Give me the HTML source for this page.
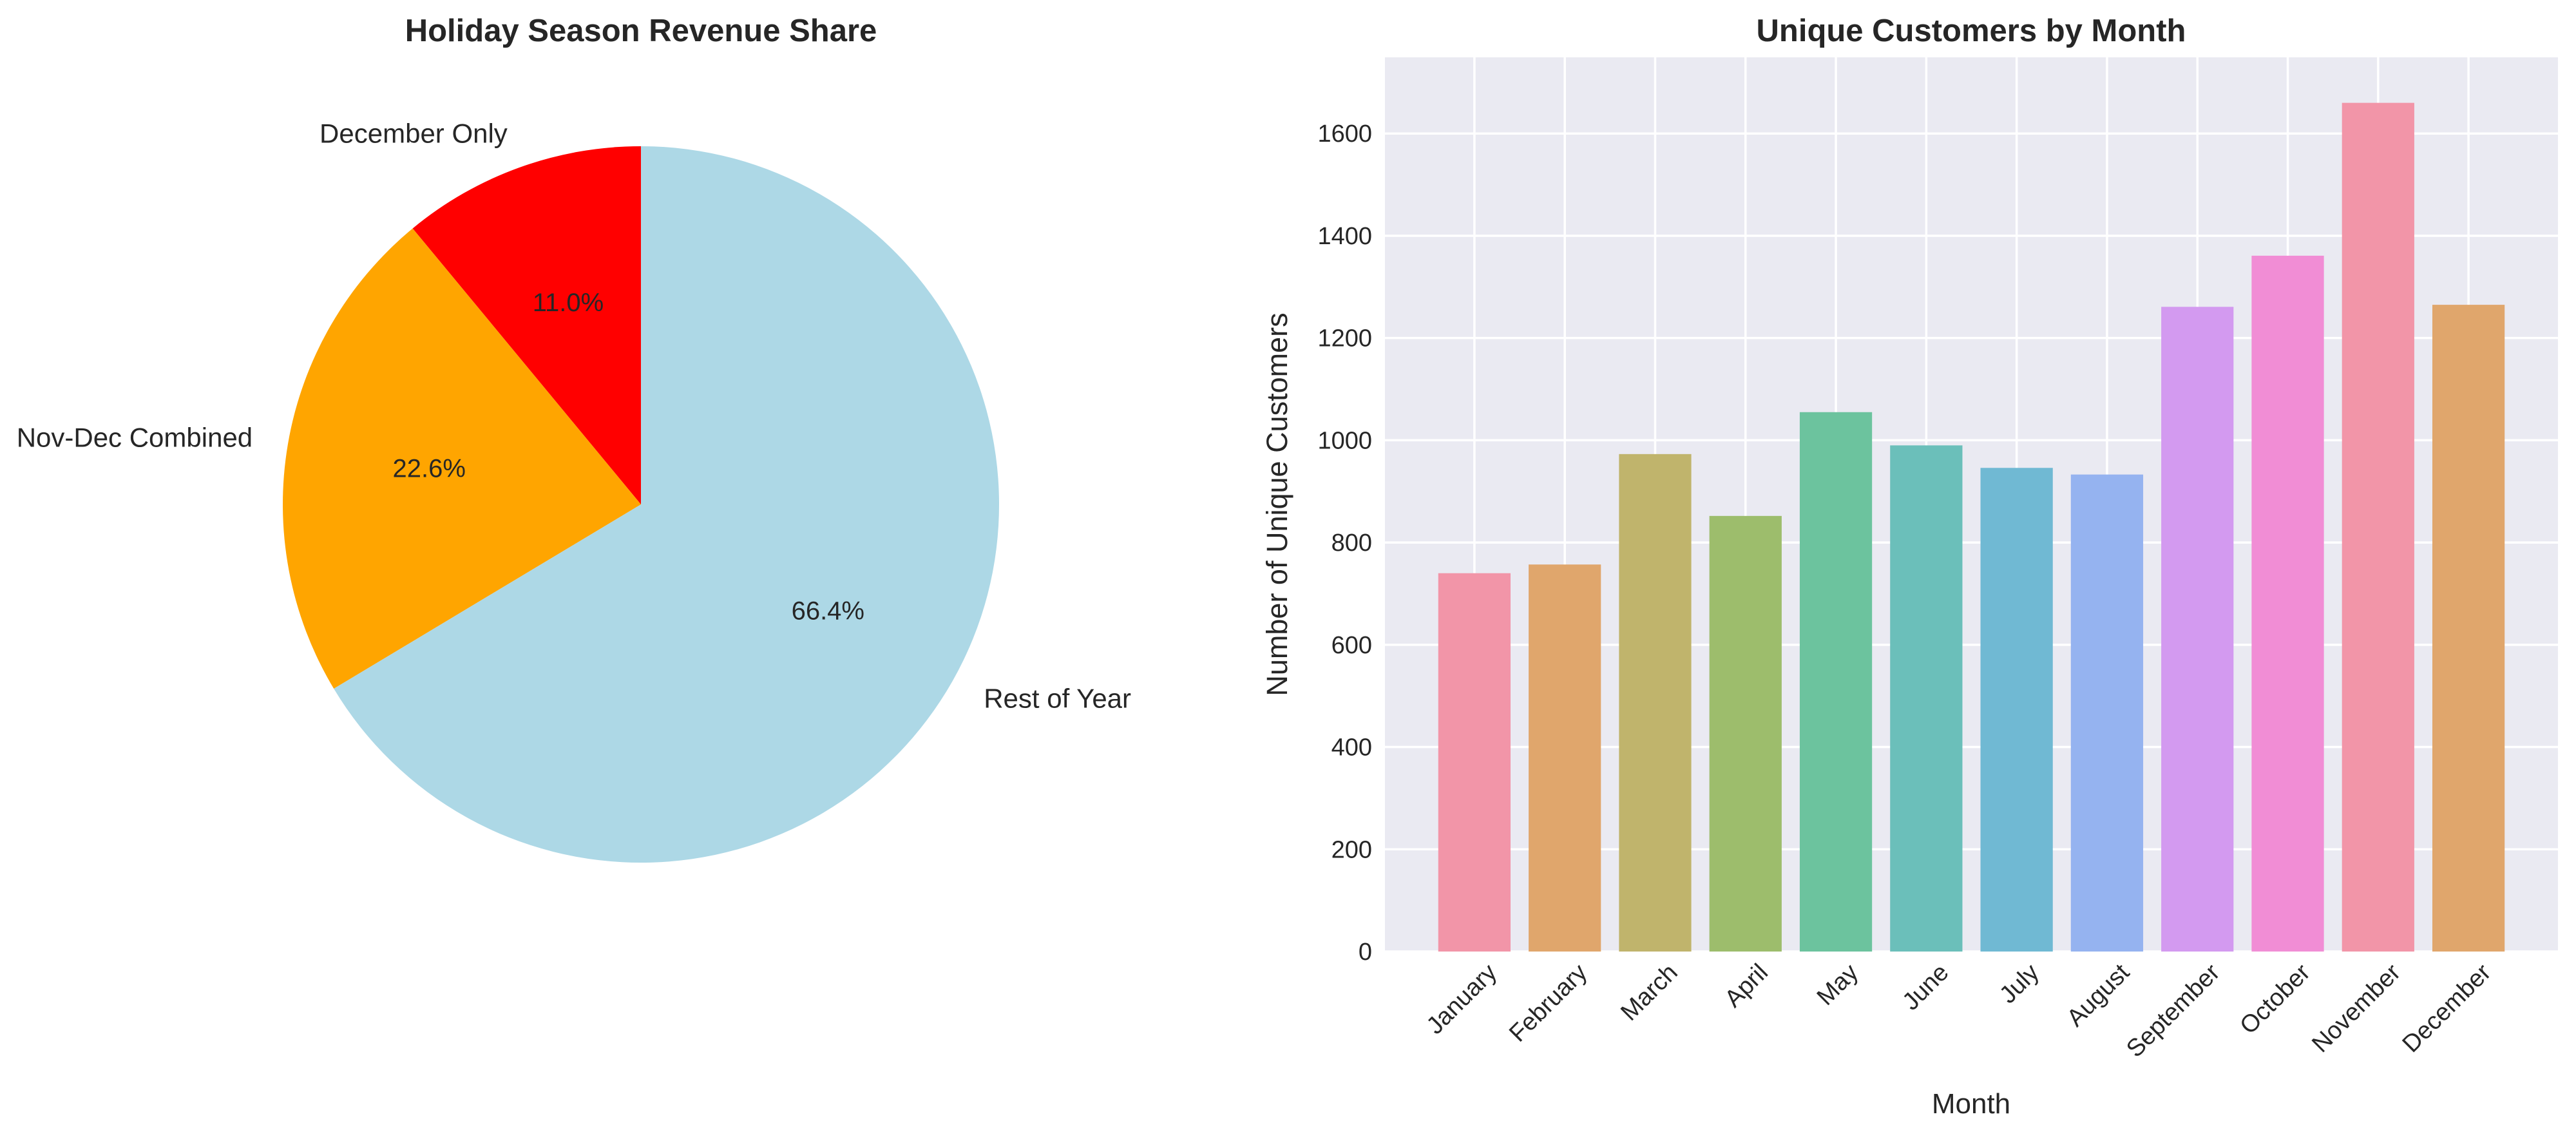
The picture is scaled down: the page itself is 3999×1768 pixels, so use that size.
<!DOCTYPE html>
<html><head><meta charset="utf-8"><style>
html,body{margin:0;padding:0;background:#fff}
svg{display:block;font-family:"Liberation Sans","DejaVu Sans",sans-serif}
</style></head><body>
<svg id="s" width="3999" height="1768" viewBox="0 0 3999 1768" xmlns="http://www.w3.org/2000/svg">
<text x="995" y="64" text-anchor="middle" font-size="49" font-weight="bold" fill="#262626">Holiday Season Revenue Share</text>
<g id="pie"></g>
<text x="3060" y="64" text-anchor="middle" font-size="49" font-weight="bold" fill="#262626">Unique Customers by Month</text>
<rect x="2150" y="89" width="1821" height="1388" fill="#eaeaf2"/>
<g id="grid"></g>
<g id="bars"></g>
<g id="ticks"></g>
<text transform="translate(1998,783) rotate(-90)" text-anchor="middle" font-size="45" fill="#262626">Number of Unique Customers</text>
<text x="3060" y="1728" text-anchor="middle" font-size="44" fill="#262626">Month</text>
</svg>
<script>
const pieLabels = ["December Only","Nov-Dec Combined","Rest of Year"];
const pieValues = [11.0, 22.6, 66.4];
const pieColors = ["#ff0000","#ffa500","#add8e6"];
const months = ["January","February","March","April","May","June","July","August","September","October","November","December"];
const customers = [740, 757, 973, 852, 1055, 990, 946, 933, 1261, 1361, 1660, 1265];
const yTicks = [0,200,400,600,800,1000,1200,1400,1600];
const barColors = ["#f295a8","#e0a66c","#c0b46c","#9dbd6c","#6cc39e","#6bbfba","#70b9d3","#95b3f0","#d39af0","#f18dd5","#f295a8","#e0a66c"];

const NS="http://www.w3.org/2000/svg";
function mk(tag,attrs,parent){const e=document.createElementNS(NS,tag);for(const k in attrs)e.setAttribute(k,attrs[k]);parent.appendChild(e);return e;}

const pie=document.getElementById('pie');
const cx=995, cy=783, R=556;
const total=pieValues.reduce((a,b)=>a+b,0);
let ang=90;
pieValues.forEach((v,i)=>{
  const sweep=v/total*360;
  const a0=ang*Math.PI/180, a1=(ang+sweep)*Math.PI/180;
  const x0=cx+R*Math.cos(a0), y0=cy-R*Math.sin(a0);
  const x1=cx+R*Math.cos(a1), y1=cy-R*Math.sin(a1);
  const large=sweep>180?1:0;
  const p=mk('path',{d:`M${cx},${cy} L${x0},${y0} A${R},${R} 0 ${large} 0 ${x1},${y1} Z`,fill:pieColors[i]},pie);
  
  
  const mid=(ang+sweep/2)*Math.PI/180;
  const lx=cx+1.1*R*Math.cos(mid), ly=cy-1.1*R*Math.sin(mid);
  const t=mk('text',{x:lx,y:ly+14,'font-size':42,fill:'#262626','text-anchor':Math.cos(mid)<-0.01?'end':(Math.cos(mid)>0.01?'start':'middle')},pie);
  t.textContent=pieLabels[i];
  
  
  const px=cx+0.6*R*Math.cos(mid), py=cy-0.6*R*Math.sin(mid);
  const t2=mk('text',{x:px,y:py+14,'font-size':40,fill:'#262626','text-anchor':'middle'},pie);
  t2.textContent=v.toFixed(1)+'%';
  
  
  ang+=sweep;
});

const L=2150,Rr=3971,T=89,B=1477;
const xmin=-0.99,xmax=11.99,ymax=1749;
const X=i=>L+(i-xmin)/(xmax-xmin)*(Rr-L);
const Y=v=>B-v/ymax*(B-T);
const grid=document.getElementById('grid'),bars=document.getElementById('bars'),ticks=document.getElementById('ticks');
yTicks.forEach(v=>{
  const l=mk('line',{x1:L,x2:Rr,y1:Y(v),y2:Y(v),stroke:'#fff','stroke-width':3.5},grid);
  
  
  const t=mk('text',{x:L-20,y:Y(v)+13,'text-anchor':'end','font-size':38,fill:'#262626'},ticks);
  t.textContent=v;
  
  
});
months.forEach((m,i)=>{
  const l=mk('line',{x1:X(i),x2:X(i),y1:T,y2:B,stroke:'#fff','stroke-width':3.5},grid);
  
  
  const w=(X(0.4)-X(-0.4));
  const r=mk('rect',{x:X(i)-w/2,y:Y(customers[i]),width:w,height:B-Y(customers[i]),fill:barColors[i]},bars);
  
  
  const t=mk('text',{transform:`translate(${X(i)+18},${B+16}) rotate(-45)`,'text-anchor':'end','font-size':38,fill:'#262626'},ticks);
  t.setAttribute('dy','0.7em');
  t.textContent=m;
  
  
});
</script>
</body></html>
